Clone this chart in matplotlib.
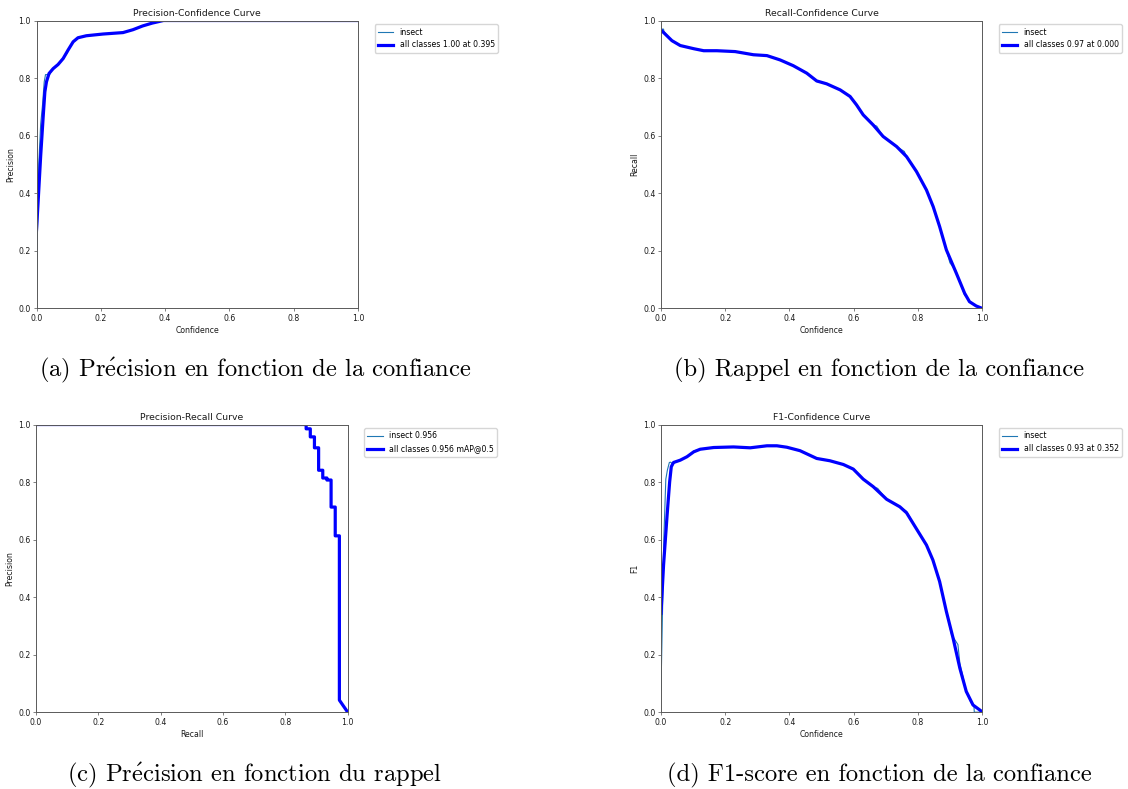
import matplotlib
matplotlib.use("Agg")
import matplotlib.pyplot as plt

# ---- (a) Precision-Confidence ----
pc_conf_insect = [0.0, 0.002, 0.007, 0.013, 0.019, 0.024, 0.028, 0.041, 0.047, 0.06, 0.075,
                  0.095, 0.112, 0.13, 0.155, 0.2, 0.27, 0.3, 0.33, 0.36, 0.39, 1.0]
pc_prec_insect = [0.04, 0.21, 0.50, 0.64, 0.71, 0.787, 0.812, 0.812, 0.826, 0.84, 0.856,
                  0.886, 0.925, 0.94, 0.947, 0.952, 0.958, 0.968, 0.981, 0.991, 1.0, 1.0]
pc_conf_all = [0.0, 0.005, 0.013, 0.021, 0.026, 0.031, 0.039, 0.052, 0.067, 0.083, 0.098,
               0.114, 0.129, 0.155, 0.207, 0.269, 0.30, 0.33, 0.36, 0.395, 1.0]
pc_prec_all = [0.272, 0.37, 0.53, 0.67, 0.752, 0.787, 0.816, 0.833, 0.847, 0.868, 0.897,
               0.926, 0.94, 0.947, 0.953, 0.958, 0.968, 0.981, 0.991, 1.0, 1.0]

# ---- (b) Recall-Confidence ----
rc_conf_insect = [0.0, 0.008, 0.009, 0.034, 0.06, 0.102, 0.133, 0.174, 0.231, 0.288, 0.33,
                  0.371, 0.412, 0.454, 0.485, 0.516, 0.558, 0.589, 0.609, 0.63, 0.661, 0.672,
                  0.692, 0.734, 0.758, 0.765, 0.796, 0.827, 0.848, 0.868, 0.889, 0.90,
                  0.918, 0.925, 0.946, 0.95, 0.961, 0.982, 1.0]
rc_rec_insect = [0.97, 0.97, 0.962, 0.928, 0.913, 0.902, 0.895, 0.895, 0.892, 0.881, 0.878,
                 0.863, 0.843, 0.817, 0.788, 0.780, 0.759, 0.736, 0.707, 0.672, 0.637, 0.633,
                 0.597, 0.562, 0.545, 0.527, 0.475, 0.411, 0.353, 0.284, 0.203, 0.158,
                 0.132, 0.11, 0.045, 0.042, 0.023, 0.008, 0.0]
rc_conf_all = [0.0, 0.034, 0.06, 0.102, 0.133, 0.174, 0.231, 0.288, 0.33, 0.371, 0.412,
               0.454, 0.485, 0.516, 0.558, 0.589, 0.609, 0.63, 0.661, 0.692, 0.734, 0.765,
               0.796, 0.827, 0.848, 0.868, 0.889, 0.92, 0.946, 0.961, 0.982, 1.0]
rc_rec_all = [0.967, 0.930, 0.913, 0.902, 0.895, 0.895, 0.892, 0.881, 0.878, 0.863, 0.843,
              0.817, 0.790, 0.780, 0.759, 0.736, 0.707, 0.672, 0.637, 0.597, 0.562, 0.527,
              0.475, 0.411, 0.353, 0.284, 0.203, 0.122, 0.052, 0.023, 0.008, 0.0]

# ---- (c) Precision-Recall (interpolated envelope breakpoints) ----
pr_recall = [0.0, 0.8667, 0.88, 0.8933, 0.9067, 0.92, 0.9333, 0.9467, 0.96, 0.9733, 1.0]
pr_precision = [1.0, 0.985, 0.957, 0.919, 0.841, 0.814, 0.807, 0.713, 0.613, 0.042, 0.0]
pr_ap = 0.956

# ---- (d) F1-Confidence ----
f1_conf_insect = [0.0, 0.005, 0.009, 0.015, 0.02, 0.026, 0.03, 0.036, 0.044, 0.06, 0.081,
                  0.102, 0.122, 0.164, 0.226, 0.278, 0.33, 0.361, 0.392, 0.433, 0.485, 0.526,
                  0.568, 0.599, 0.63, 0.661, 0.675, 0.703, 0.744, 0.765, 0.796, 0.827,
                  0.847, 0.868, 0.889, 0.905, 0.925, 0.931, 0.951, 0.965, 0.975, 0.976, 1.0]
f1_val_insect = [0.078, 0.367, 0.61, 0.81, 0.842, 0.868, 0.869, 0.863, 0.868, 0.876, 0.888,
                 0.908, 0.914, 0.920, 0.922, 0.919, 0.926, 0.926, 0.921, 0.909, 0.882, 0.874,
                 0.861, 0.845, 0.810, 0.784, 0.778, 0.740, 0.714, 0.698, 0.637, 0.581,
                 0.529, 0.454, 0.350, 0.27, 0.235, 0.17, 0.072, 0.035, 0.02, 0.0, 0.0]
f1_conf_all = [0.0, 0.008, 0.019, 0.027, 0.032, 0.039, 0.06, 0.081, 0.102, 0.122, 0.164,
               0.226, 0.278, 0.33, 0.361, 0.392, 0.433, 0.485, 0.526, 0.568, 0.599, 0.63,
               0.661, 0.703, 0.744, 0.765, 0.796, 0.827, 0.847, 0.868, 0.889, 0.91, 0.931,
               0.951, 0.972, 1.0]
f1_val_all = [0.344, 0.512, 0.685, 0.801, 0.853, 0.868, 0.876, 0.888, 0.905, 0.914, 0.920,
              0.922, 0.919, 0.926, 0.926, 0.921, 0.909, 0.882, 0.874, 0.861, 0.845, 0.810,
              0.784, 0.740, 0.714, 0.693, 0.637, 0.581, 0.529, 0.454, 0.350, 0.257, 0.153,
              0.072, 0.025, 0.002]

# captions set in Computer Modern; the accented e goes through mathtext
captions = [r"(a) Pr$\acute{\mathrm{e}}$cision en fonction de la confiance",
            r"(b) Rappel en fonction de la confiance",
            r"(c) Pr$\acute{\mathrm{e}}$cision en fonction du rappel",
            r"(d) F1-score en fonction de la confiance"]

W, H = 1128, 789
plt.rcParams["font.family"] = "DejaVu Sans"
plt.rcParams["mathtext.fontset"] = "cm"
fig = plt.figure(figsize=(W / 100, H / 100), dpi=100)

small = 5.6


def make_axes(left, top, right, bottom):
    ax = fig.add_axes([left / W, 1 - bottom / H, (right - left) / W, (bottom - top) / H])
    ax.set_xlim(0, 1)
    ax.set_ylim(0, 1)
    for s in ax.spines.values():
        s.set_color("0.35")
        s.set_linewidth(0.7)
    ax.tick_params(labelsize=small, length=2.2, width=0.5, pad=1.8, color="0.3",
                   labelcolor="0.1")
    return ax


def finish(ax, title, xlabel, ylabel):
    ax.set_title(title, fontsize=6.7, pad=3.5, color="0.1")
    ax.set_xlabel(xlabel, fontsize=small, labelpad=2, color="0.1")
    ax.set_ylabel(ylabel, fontsize=small, labelpad=2.5, color="0.1")
    ax.legend(bbox_to_anchor=(1.04, 1), loc="upper left", fontsize=small,
              handlelength=2.0, borderpad=0.4, labelspacing=0.5)


thin = dict(linewidth=0.8, color="#1f77b4")
thick = dict(linewidth=2.3, color="blue")

# (a)
ax = make_axes(36.5, 20.5, 358, 308.3)
ax.plot(pc_conf_insect, pc_prec_insect, label="insect", **thin)
ax.plot(pc_conf_all, pc_prec_all, label="all classes 1.00 at 0.395", **thick)
finish(ax, "Precision-Confidence Curve", "Confidence", "Precision")

# (b)
ax = make_axes(661, 20.5, 982, 308.3)
ax.plot(rc_conf_insect, rc_rec_insect, label="insect", **thin)
ax.plot(rc_conf_all, rc_rec_all, label="all classes 0.97 at 0.000", **thick)
finish(ax, "Recall-Confidence Curve", "Confidence", "Recall")

# (c) staircase built from the envelope breakpoints
stair_r, stair_p = [pr_recall[0]], [pr_precision[0]]
for i in range(1, len(pr_recall) - 1):
    stair_r += [pr_recall[i], pr_recall[i]]
    stair_p += [pr_precision[i - 1], pr_precision[i]]
stair_r.append(pr_recall[-1])
stair_p.append(pr_precision[-1])
ax = make_axes(36, 424.5, 347.7, 712.2)
ax.plot(stair_r, stair_p, label=f"insect {pr_ap:.3f}", **thin)
ax.plot(stair_r, stair_p, label=f"all classes {pr_ap:.3f} mAP@0.5", **thick)
finish(ax, "Precision-Recall Curve", "Recall", "Precision")

# (d)
ax = make_axes(661, 424.5, 982, 712.2)
ax.plot(f1_conf_insect, f1_val_insect, label="insect", **thin)
ax.plot(f1_conf_all, f1_val_all, label="all classes 0.93 at 0.352", **thick)
finish(ax, "F1-Confidence Curve", "Confidence", "F1")

# sub-figure captions
cap_pos = [(255, 370), (879, 370), (254, 775), (879, 775)]
for (cx, cy), text in zip(cap_pos, captions):
    fig.text(cx / W, 1 - cy / H, text, ha="center", va="center", fontsize=17.7,
             family="cmr10", color="black")

fig.savefig("out.png", dpi=100)
